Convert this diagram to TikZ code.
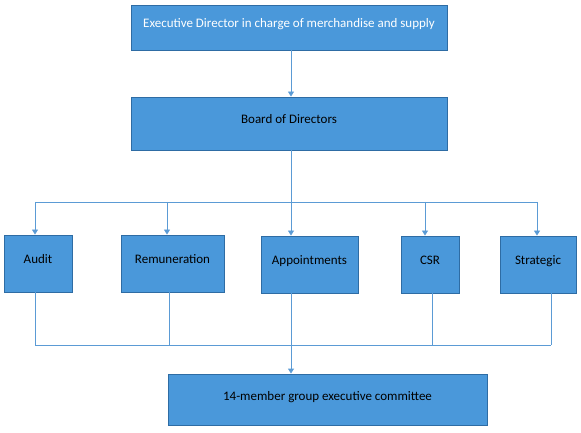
\documentclass[tikz,border=0pt]{standalone}
\usepackage{fontspec}
\setmainfont{Carlito}
\usepackage{xcolor}
\usetikzlibrary{arrows.meta}

\definecolor{boxfill}{RGB}{74,152,218}
\definecolor{boxline}{RGB}{46,108,164}
\definecolor{linkblue}{RGB}{91,155,213}

\begin{document}
\begin{tikzpicture}[
            x=1bp, y=-1bp,
            box/.style={rectangle, draw=boxline, fill=boxfill, line width=0.9bp, inner sep=0pt,
                        text height=9bp, text depth=8bp, font=\fontsize{13bp}{15bp}\selectfont},
            link/.style={draw=linkblue, line width=0.9bp},
            arrow/.style={link, -{Triangle[length=5bp, width=6bp]}}
        ]
            \useasboundingbox (0,0) rectangle (581,433);

            \node[box, minimum width=316bp, minimum height=45bp, text=white] (exec)  at (289,27.5)  {Executive Director in charge of merchandise and supply};
            \node[box, minimum width=316bp, minimum height=53bp] (board)  at (289,123.5) {Board of Directors};

            \node[box, minimum width=68bp,  minimum height=57bp] (audit)  at (38,263.5)  {Audit};
            \node[box, minimum width=103bp, minimum height=57bp] (remun)  at (172.5,263.5) {Remuneration};
            \node[box, minimum width=97bp,  minimum height=57bp] (appt)   at (309.5,264.5) {Appointments};
            \node[box, minimum width=58bp,  minimum height=57bp] (csr)    at (430,264.5) {CSR};
            \node[box, minimum width=76bp,  minimum height=57bp] (strat)  at (538,264.5) {Strategic};

            \node[box, minimum width=319bp, minimum height=51bp] (exco)   at (327.5,399.5) {14-member group executive committee};

            \coordinate (topbus) at (0,202);
            \coordinate (lowbus) at (0,345);

            % board to committees
            \draw[arrow] ([xshift=2bp]exec.south) -- ([xshift=2bp]board.north);
            \draw[arrow] ([xshift=2bp]board.south) -- ([xshift=2bp]board.south |- appt.north);
            \draw[link] ([xshift=-3bp]audit.north |- topbus) -- ([xshift=-1bp]strat.north |- topbus);
            \foreach \n/\dx in {audit/-3, remun/-5.5, csr/-5, strat/-1}
                \draw[arrow] ([xshift=\dx bp]\n.north |- topbus) -- ([xshift=\dx bp]\n.north);

            % committees to executive committee
            \foreach \n/\dx in {audit/-3, remun/-3.5, appt/-18.5, csr/2, strat/13}
                \draw[link] ([xshift=\dx bp]\n.south) -- ([xshift=\dx bp]\n.south |- lowbus);
            \draw[link] ([xshift=-3bp]audit.south |- lowbus) -- ([xshift=13bp]strat.south |- lowbus);
            \draw[arrow] ([xshift=2bp]board.south |- lowbus) -- ([xshift=2bp]board.south |- exco.north);
        \end{tikzpicture}
\end{document}
